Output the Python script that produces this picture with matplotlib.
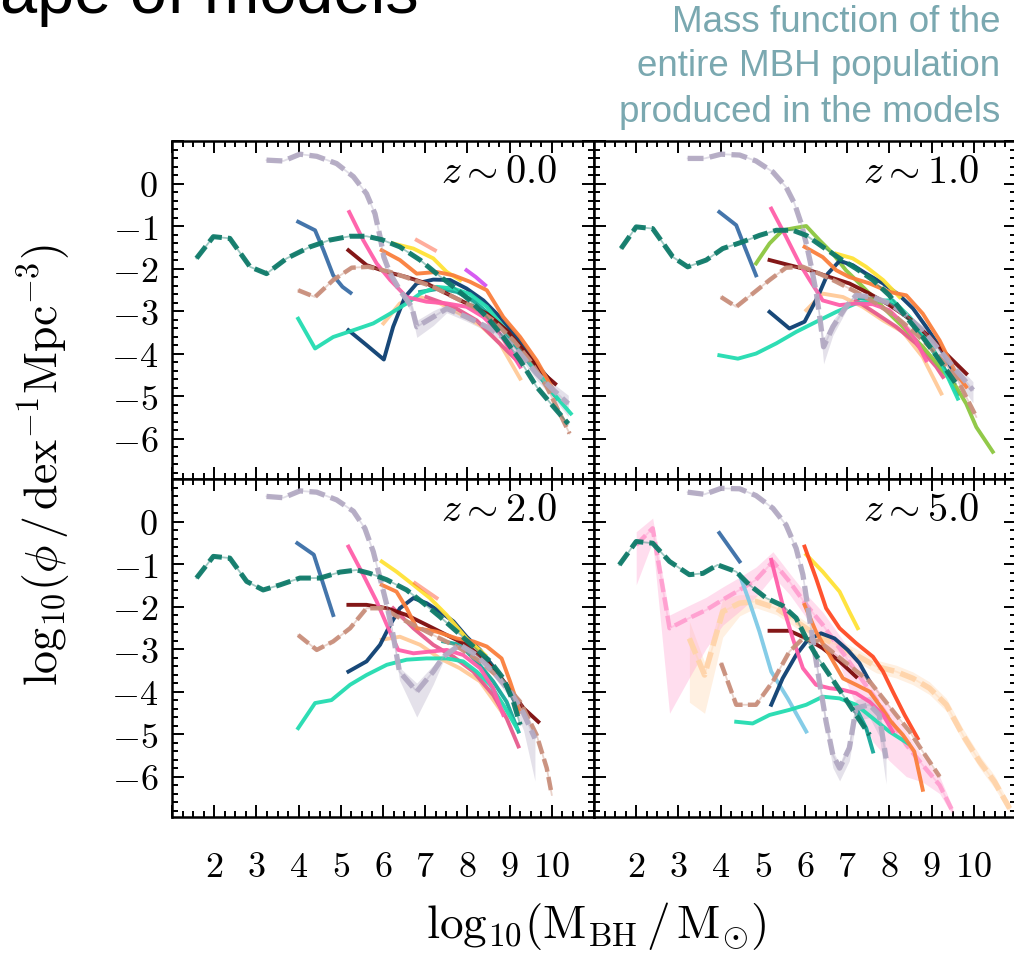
import numpy as np
import matplotlib.pyplot as plt
from matplotlib.ticker import MultipleLocator, FuncFormatter

plt.rcParams['mathtext.fontset'] = 'cm'

# ---- z ~ 0.0 -------------------------------------------------------------
z0_teal_x = [1.58, 1.98, 2.37, 2.85, 3.24, 3.72, 4.27, 4.74, 5.22, 5.61, 5.97, 6.40, 6.88, 7.27, 7.67, 8.06, 8.46, 8.85, 9.25, 9.64, 10.04, 10.39]
z0_teal_y = [-1.76, -1.25, -1.29, -1.96, -2.12, -1.76, -1.49, -1.33, -1.24, -1.24, -1.32, -1.49, -1.80, -2.12, -2.43, -2.75, -3.14, -3.61, -4.16, -4.78, -5.25, -5.65]
z0_gray_x = [3.24, 3.64, 4.03, 4.43, 4.90, 5.30, 5.61, 5.81, 5.93, 6.02, 6.17, 6.40, 6.68, 6.80, 7.19, 7.51, 7.98, 8.46, 8.85, 9.25, 9.64, 10.04, 10.39]
z0_gray_y = [0.55, 0.53, 0.69, 0.64, 0.47, 0.16, -0.24, -0.71, -1.25, -1.73, -2.12, -2.51, -2.90, -3.37, -3.14, -2.94, -3.14, -3.37, -3.61, -4.00, -4.47, -4.86, -5.18]
z0_gray_lo = [0, 0, 0, 0, 0, 0, 0, 0, 0, 0, 0, 0.05, 0.15, 0.25, 0.2, 0.1, 0.1, 0.1, 0.1, 0.1, 0.15, 0.2, 0.3]
z0_gray_hi = [0, 0, 0, 0, 0, 0, 0, 0, 0, 0, 0, 0.05, 0.1, 0.15, 0.15, 0.1, 0.05, 0.05, 0.05, 0.1, 0.1, 0.15, 0.2]
z0_steel_x = [3.99, 4.39, 4.59, 4.82, 5.04, 5.23]
z0_steel_y = [-0.90, -1.10, -1.57, -2.16, -2.43, -2.57]
z0_salmon_x = [3.99, 4.39, 4.82, 5.26, 5.65, 6.17, 6.64, 7.19, 7.67, 8.14, 8.61, 9.09, 9.48, 9.88, 10.19, 10.42]
z0_salmon_y = [-2.51, -2.67, -2.27, -1.98, -1.96, -2.08, -2.24, -2.43, -2.67, -2.90, -3.22, -3.69, -4.16, -4.78, -5.41, -5.88]
z0_navy_x = [5.18, 5.61, 6.02, 6.24, 6.52, 6.80, 7.19, 7.59, 7.98, 8.38, 8.77, 9.17, 9.56, 9.96]
z0_navy_y = [-3.45, -3.80, -4.14, -3.37, -2.67, -2.35, -2.26, -2.27, -2.47, -2.75, -3.14, -3.61, -4.16, -4.63]
z0_aqua_x = [3.99, 4.39, 4.82, 5.30, 5.77, 6.17, 6.56, 6.88, 7.27, 7.67, 8.06, 8.46, 8.85, 9.25, 9.64, 10.04, 10.45]
z0_aqua_y = [-3.18, -3.88, -3.61, -3.45, -3.29, -3.06, -2.82, -2.59, -2.43, -2.47, -2.60, -2.90, -3.37, -3.84, -4.39, -4.94, -5.41]
z0_pink_x = [5.20, 5.53, 5.85, 6.17, 6.56, 7.03, 7.51, 7.98, 8.38, 8.77, 9.25]
z0_pink_y = [-0.67, -1.33, -1.88, -2.27, -2.67, -2.78, -2.82, -2.90, -3.14, -3.53, -4.31]
z0_maroon_x = [5.18, 5.61, 6.09, 6.56, 7.03, 7.51, 7.98, 8.46, 8.93, 9.40, 9.80, 10.08]
z0_maroon_y = [-1.57, -1.92, -2.08, -2.20, -2.35, -2.59, -2.82, -3.06, -3.45, -4.00, -4.47, -4.71]
z0_orange_x = [5.97, 6.40, 6.80, 7.27, 7.67, 8.06, 8.46, 8.85, 9.25, 9.64, 10.04]
z0_orange_y = [-1.57, -1.80, -2.12, -2.08, -2.16, -2.31, -2.51, -3.14, -3.61, -4.16, -4.86]
z0_yellow_x = [6.24, 6.72, 7.19, 7.51, 7.83]
z0_yellow_y = [-1.41, -1.53, -1.76, -2.08, -2.27]
z0_peach_x = [6.01, 6.40, 6.88, 7.35, 7.82, 8.30, 8.77, 9.25]
z0_peach_y = [-3.29, -2.82, -2.67, -2.82, -3.06, -3.33, -3.76, -4.59]
z0_crimson_x = [7.03, 7.67, 8.22, 8.69, 9.17]
z0_crimson_y = [-2.67, -2.90, -3.22, -3.69, -4.16]
z0_midteal_x = [6.88, 7.35, 7.75, 8.14, 8.54, 8.93, 9.33, 9.72, 10.12]
z0_midteal_y = [-2.55, -2.47, -2.55, -2.75, -3.10, -3.55, -4.05, -4.55, -5.05]
z0_purple_x = [7.98, 8.20, 8.42]
z0_purple_y = [-2.04, -2.20, -2.39]
z0_red_x = [6.80, 7.23]
z0_red_y = [-1.33, -1.57]

# ---- z ~ 1.0 -------------------------------------------------------------
z1_teal_x = [1.64, 2.00, 2.39, 2.87, 3.22, 3.66, 4.05, 4.53, 4.92, 5.32, 5.71, 6.03, 6.42, 6.82, 7.21, 7.61, 8.00, 8.40, 8.79, 9.19, 9.58]
z1_teal_y = [-1.53, -1.02, -1.06, -1.73, -1.96, -1.80, -1.53, -1.37, -1.22, -1.10, -1.10, -1.22, -1.49, -1.76, -2.00, -2.27, -2.63, -3.14, -3.61, -4.16, -4.71]
z1_gray_x = [3.22, 3.62, 4.01, 4.45, 4.84, 5.24, 5.55, 5.75, 5.91, 6.03, 6.15, 6.27, 6.36, 6.44, 6.66, 6.97, 7.21, 7.61, 8.00, 8.40, 8.79, 9.19, 9.58, 9.98]
z1_gray_y = [0.59, 0.59, 0.69, 0.67, 0.53, 0.27, -0.08, -0.47, -0.94, -1.41, -1.96, -2.59, -3.22, -3.84, -3.37, -2.90, -2.63, -2.67, -2.82, -3.10, -3.45, -3.92, -4.39, -4.86]
z1_gray_lo = [0, 0, 0, 0, 0, 0, 0, 0, 0, 0, 0, 0.05, 0.15, 0.4, 0.2, 0.1, 0.05, 0.05, 0.05, 0.1, 0.1, 0.15, 0.2, 0.3]
z1_gray_hi = [0, 0, 0, 0, 0, 0, 0, 0, 0, 0, 0, 0.05, 0.1, 0.2, 0.15, 0.1, 0.05, 0.05, 0.05, 0.05, 0.1, 0.1, 0.15, 0.2]
z1_steel_x = [3.97, 4.37, 4.57, 4.84]
z1_steel_y = [-0.67, -0.98, -1.49, -2.16]
z1_green_x = [4.84, 5.16, 5.47, 5.79, 6.03, 6.34, 6.66, 6.97, 7.29, 7.61, 8.00, 8.40, 8.79, 9.19, 9.58, 9.82, 10.06, 10.45]
z1_green_y = [-1.88, -1.41, -1.10, -1.04, -1.00, -1.33, -1.65, -2.04, -2.35, -2.67, -3.06, -3.45, -3.84, -4.31, -4.78, -5.18, -5.73, -6.31]
z1_pink_x = [5.20, 5.55, 5.87, 6.11, 6.42, 6.82, 7.21, 7.61, 8.00, 8.32, 8.63, 8.87]
z1_pink_y = [-0.59, -1.25, -1.88, -2.27, -2.75, -2.86, -2.82, -2.84, -2.98, -3.29, -3.69, -4.16]
z1_maroon_x = [5.16, 5.63, 6.11, 6.58, 7.05, 7.53, 8.00, 8.48, 8.95, 9.42, 9.82]
z1_maroon_y = [-1.80, -1.92, -2.04, -2.20, -2.35, -2.59, -2.86, -3.18, -3.61, -4.08, -4.47]
z1_salmon_x = [4.01, 4.37, 4.76, 5.16, 5.55, 5.95, 6.34, 6.74, 7.21, 7.69, 8.16, 8.63, 9.11, 9.58, 10.06]
z1_salmon_y = [-2.67, -2.90, -2.59, -2.27, -1.98, -1.96, -2.12, -2.31, -2.55, -2.82, -3.14, -3.53, -4.00, -4.55, -5.49]
z1_navy_x = [5.16, 5.63, 5.99, 6.30, 6.54, 6.82, 7.13, 7.45, 7.85, 8.24, 8.56, 8.87, 9.19, 9.50]
z1_navy_y = [-3.02, -3.41, -3.25, -2.67, -2.12, -1.82, -1.92, -2.12, -2.35, -2.63, -2.94, -3.37, -3.84, -4.39]
z1_orange_x = [5.99, 6.42, 6.74, 7.05, 7.53, 8.00, 8.40, 8.79, 9.19, 9.58, 9.82]
z1_orange_y = [-1.49, -1.73, -2.04, -2.20, -2.35, -2.55, -2.63, -3.06, -3.69, -4.47, -4.78]
z1_yellow_x = [6.74, 7.13, 7.45, 7.85, 8.24]
z1_yellow_y = [-1.65, -1.76, -1.96, -2.27, -2.67]
z1_peach_x = [6.03, 6.42, 6.90, 7.37, 7.85, 8.32, 8.79, 9.23]
z1_peach_y = [-2.98, -2.59, -2.67, -2.90, -3.22, -3.49, -4.08, -4.94]
z1_aqua_x = [3.97, 4.41, 4.84, 5.32, 5.79, 6.27, 6.74, 7.21, 7.69, 8.08, 8.48, 8.87, 9.27, 9.62]
z1_aqua_y = [-4.04, -4.12, -4.00, -3.76, -3.49, -3.25, -3.02, -2.82, -2.75, -2.75, -3.14, -3.61, -4.31, -5.06]
z1_crimson_x = [7.21, 7.69, 8.16, 8.63, 9.11, 9.27]
z1_crimson_y = [-2.75, -3.06, -3.37, -3.76, -4.31, -4.55]
z1_midteal_x = [7.29, 7.69, 8.08, 8.48, 8.87, 9.27, 9.62]
z1_midteal_y = [-2.70, -2.72, -2.85, -3.20, -3.70, -4.30, -4.95]

# ---- z ~ 2.0 -------------------------------------------------------------
z2_teal_x = [1.58, 1.98, 2.37, 2.77, 3.16, 3.56, 4.03, 4.51, 4.98, 5.38, 5.69, 6.09, 6.56, 6.96, 7.35, 7.75, 8.14, 8.54, 8.85, 9.09, 9.25]
z2_teal_y = [-1.33, -0.82, -0.86, -1.41, -1.61, -1.49, -1.33, -1.33, -1.19, -1.14, -1.22, -1.37, -1.61, -1.92, -2.24, -2.59, -2.94, -3.29, -3.69, -4.24, -4.78]
z2_gray_x = [3.24, 3.64, 4.03, 4.43, 4.90, 5.30, 5.57, 5.77, 5.93, 6.09, 6.24, 6.39, 6.80, 7.19, 7.43, 7.82, 8.22, 8.61, 9.01, 9.33, 9.60]
z2_gray_y = [0.59, 0.56, 0.72, 0.69, 0.51, 0.24, -0.16, -0.71, -1.33, -1.96, -2.67, -3.53, -4.00, -3.53, -3.18, -2.90, -3.14, -3.53, -4.00, -4.51, -5.10]
z2_gray_lo = [0, 0, 0, 0, 0, 0, 0, 0, 0, 0, 0.05, 0.2, 0.6, 0.3, 0.1, 0.05, 0.05, 0.1, 0.15, 0.4, 1.0]
z2_gray_hi = [0, 0, 0, 0, 0, 0, 0, 0, 0, 0, 0.05, 0.1, 0.2, 0.15, 0.1, 0.05, 0.05, 0.05, 0.1, 0.1, 0.1]
z2_steel_x = [3.97, 4.36, 4.59, 4.82]
z2_steel_y = [-0.51, -0.78, -1.49, -2.20]
z2_salmon_x = [3.99, 4.43, 4.82, 5.22, 5.61, 6.01, 6.40, 6.88, 7.35, 7.82, 8.30, 8.77, 9.25, 9.64, 9.88, 10.00]
z2_salmon_y = [-2.67, -3.02, -2.82, -2.51, -2.04, -2.04, -2.27, -2.51, -2.75, -2.98, -3.29, -3.69, -4.24, -5.02, -5.80, -6.43]
z2_pink_x = [5.18, 5.53, 5.85, 6.09, 6.36, 6.72, 7.11, 7.51, 7.90, 8.30, 8.61, 8.85]
z2_pink_y = [-0.59, -1.25, -1.88, -2.43, -3.02, -3.10, -3.06, -3.02, -3.14, -3.45, -3.92, -4.55]
z2_crimson_x = [6.24, 6.72, 7.19, 7.67, 8.14, 8.61, 8.93, 9.21]
z2_crimson_y = [-2.04, -2.51, -2.90, -3.18, -3.53, -4.08, -4.63, -5.29]
z2_maroon_x = [5.18, 5.61, 6.09, 6.56, 7.03, 7.51, 7.98, 8.46, 8.93, 9.33, 9.68]
z2_maroon_y = [-1.96, -1.96, -2.04, -2.20, -2.43, -2.67, -2.90, -3.29, -3.84, -4.39, -4.71]
z2_navy_x = [5.18, 5.61, 5.93, 6.17, 6.40, 6.72, 7.03, 7.35, 7.67, 7.98, 8.30, 8.61, 8.93, 9.21]
z2_navy_y = [-3.53, -3.29, -2.90, -2.43, -2.04, -1.80, -1.92, -2.12, -2.35, -2.71, -3.02, -3.41, -3.88, -4.39]
z2_yellow_x = [5.97, 6.32, 6.72, 7.11, 7.51, 7.98, 8.42]
z2_yellow_y = [-0.94, -1.18, -1.49, -1.80, -2.20, -2.75, -3.14]
z2_red_x = [6.76, 7.27]
z2_red_y = [-1.45, -1.80]
z2_orange_x = [5.97, 6.32, 6.56, 6.80, 7.27, 7.75, 8.14, 8.46, 8.81, 9.01, 9.25]
z2_orange_y = [-1.49, -1.65, -2.04, -2.51, -2.59, -2.75, -2.82, -2.94, -3.22, -3.76, -4.47]
z2_peach_x = [5.97, 6.40, 6.88, 7.35, 7.82, 8.30, 8.81]
z2_peach_y = [-2.78, -2.71, -2.90, -3.22, -3.45, -3.76, -4.47]
z2_aqua_x = [3.99, 4.39, 4.78, 5.22, 5.61, 6.09, 6.56, 7.03, 7.51, 7.90, 8.22, 8.54, 8.85, 9.17]
z2_aqua_y = [-4.86, -4.27, -4.20, -3.84, -3.61, -3.37, -3.25, -3.22, -3.22, -3.29, -3.53, -3.84, -4.31, -4.86]
z2_midteal_x = [7.43, 7.82, 8.22, 8.61, 8.93, 9.21]
z2_midteal_y = [-2.82, -2.90, -3.29, -3.76, -4.24, -4.94]

# ---- z ~ 5.0 -------------------------------------------------------------
z5_teal_x = [1.60, 2.00, 2.39, 2.79, 3.26, 3.58, 3.93, 4.37, 4.68, 5.08, 5.47, 5.79, 6.03, 6.26, 6.58, 6.90, 7.21, 7.53]
z5_teal_y = [-1.02, -0.47, -0.51, -0.94, -1.25, -1.22, -1.02, -1.18, -1.49, -1.80, -1.98, -2.27, -2.75, -3.14, -3.61, -4.08, -4.55, -5.02]
z5_gray_x = [3.22, 3.62, 4.01, 4.45, 4.84, 5.24, 5.55, 5.79, 5.95, 6.07, 6.19, 6.34, 6.50, 6.66, 6.82, 7.05, 7.21, 7.53, 7.76, 7.92]
z5_gray_y = [0.69, 0.64, 0.78, 0.77, 0.61, 0.31, -0.08, -0.63, -1.25, -2.04, -2.82, -3.76, -4.71, -5.49, -5.80, -5.33, -4.39, -4.31, -4.55, -5.57]
z5_gray_lo = [0, 0, 0, 0, 0, 0, 0, 0, 0, 0, 0.05, 0.1, 0.2, 0.3, 0.3, 0.3, 0.3, 0.3, 0.5, 0.6]
z5_gray_hi = [0, 0, 0, 0, 0, 0, 0, 0, 0, 0, 0.05, 0.1, 0.1, 0.1, 0.1, 0.2, 0.2, 0.2, 0.2, 0.2]
z5_pinkd_x = [2.00, 2.39, 2.79, 3.26, 3.66, 4.05, 4.45, 4.84, 5.24, 5.63, 6.03, 6.42, 6.82, 7.21, 7.61, 8.00, 8.40, 8.79, 9.19, 9.50]
z5_pinkd_y = [-0.55, -0.16, -2.51, -2.27, -2.08, -1.84, -1.61, -1.37, -0.94, -1.41, -1.96, -2.43, -2.98, -3.53, -4.08, -4.63, -5.25, -5.73, -6.20, -6.82]
z5_pinkd_lo = [0.94, 0.31, 2.0, 1.4, 0.9, 0.6, 0.5, 0.4, 0.35, 0.3, 0.3, 0.3, 0.4, 0.8, 1.1, 1.0, 0.75, 0.4, 0.2, 0.1]
z5_pinkd_hi = [0.31, 0.24, 0.31, 0.3, 0.3, 0.3, 0.3, 0.3, 0.23, 0.2, 0.25, 0.3, 0.3, 0.3, 0.3, 0.3, 0.3, 0.2, 0.2, 0.1]
z5_peachd_x = [3.26, 3.62, 4.05, 4.45, 4.84, 5.32, 5.79, 6.26, 6.74, 7.21, 7.69, 8.16, 8.56, 8.95, 9.35, 9.74, 10.14, 10.49, 10.85]
z5_peachd_y = [-2.75, -3.61, -2.12, -1.92, -1.88, -2.04, -2.35, -2.67, -2.90, -3.14, -3.41, -3.53, -3.69, -3.92, -4.31, -5.02, -5.65, -6.12, -6.75]
z5_peachd_lo = [1.5, 0.9, 0.6, 0.3, 0.15, 0.15, 0.15, 0.15, 0.15, 0.15, 0.15, 0.15, 0.15, 0.15, 0.15, 0.15, 0.15, 0.15, 0.1]
z5_peachd_hi = [0.4, 0.3, 0.3, 0.2, 0.15, 0.15, 0.15, 0.15, 0.15, 0.15, 0.15, 0.15, 0.15, 0.15, 0.15, 0.15, 0.15, 0.15, 0.1]
z5_steel_x = [3.97, 4.45]
z5_steel_y = [-0.27, -0.94]
z5_lblue_x = [4.45, 4.68, 4.92, 5.20, 5.59, 6.03]
z5_lblue_y = [-1.25, -1.88, -2.59, -3.53, -4.16, -4.94]
z5_salmon_x = [4.01, 4.37, 4.84, 5.24, 5.63, 5.95, 6.34, 6.74, 7.13, 7.53, 7.85, 8.16, 8.48, 8.79, 9.19]
z5_salmon_y = [-3.33, -4.31, -4.31, -3.76, -3.06, -2.75, -2.82, -3.14, -3.45, -3.76, -4.16, -4.55, -4.94, -5.41, -6.00]
z5_maroon_x = [5.16, 5.63, 6.03, 6.42, 6.82, 7.21]
z5_maroon_y = [-2.57, -2.57, -2.75, -2.98, -3.29, -3.65]
z5_pink_x = [5.20, 5.47, 5.71, 5.95, 6.26, 6.58, 6.90, 7.21, 7.53, 7.85, 8.08]
z5_pink_y = [-0.90, -1.96, -2.75, -3.45, -3.84, -3.92, -3.96, -4.04, -4.24, -4.55, -4.94]
z5_navy_x = [5.20, 5.47, 5.79, 6.07, 6.38, 6.70, 7.01, 7.29, 7.53]
z5_navy_y = [-4.31, -3.69, -3.14, -2.78, -2.63, -2.75, -3.02, -3.33, -3.76]
z5_red_x = [5.99, 6.26, 6.50, 6.82, 7.21, 7.61, 7.85, 8.08, 8.36, 8.67]
z5_red_y = [-0.59, -1.33, -2.04, -2.51, -2.86, -3.18, -3.53, -4.00, -4.55, -5.10]
z5_yellow_x = [6.03, 6.42, 6.82, 7.05, 7.25]
z5_yellow_y = [-0.78, -1.18, -1.65, -2.12, -2.51]
z5_orange_x = [5.99, 6.26, 6.58, 6.90, 7.21, 7.53, 7.76, 8.04, 8.32, 8.59, 8.79]
z5_orange_y = [-1.96, -2.59, -3.14, -3.69, -3.84, -4.00, -4.31, -4.71, -5.02, -5.41, -6.31]
z5_aqua_x = [4.37, 4.76, 5.16, 5.63, 6.03, 6.42, 6.82, 7.21, 7.61, 8.00, 8.44]
z5_aqua_y = [-4.71, -4.75, -4.55, -4.43, -4.31, -4.12, -4.16, -4.31, -4.63, -4.94, -5.22]
z5_midteal_x = [7.21, 7.45, 7.61]
z5_midteal_y = [-4.39, -4.86, -5.41]

STYLE = {
    'teal':    dict(color='#0e7a69', dashed=True, lw=3.6, z=6),
    'gray':    dict(color='#b3aac3', dashed=True, lw=3.8, z=5),
    'salmon':  dict(color='#c98f7c', dashed=True, lw=3.2, z=4),
    'pinkd':   dict(color='#ff9fd0', dashed=True, lw=3.2, z=3),
    'peachd':  dict(color='#ffd4aa', dashed=True, lw=4.0, z=2),
    'steel':   dict(color='#3a6ea7'),
    'navy':    dict(color='#0b3e71'),
    'aqua':    dict(color='#22dcb0'),
    'pink':    dict(color='#ff5ea9'),
    'crimson': dict(color='#e65b8d'),
    'maroon':  dict(color='#7c0a0a'),
    'orange':  dict(color='#fa7f3c'),
    'yellow':  dict(color='#ffe236'),
    'peach':   dict(color='#ffca98'),
    'midteal': dict(color='#16a99a'),
    'green':   dict(color='#8cc63f'),
    'purple':  dict(color='#cc33ee', alpha=0.8),
    'red':     dict(color='#ff4a24'),
    'redfaint': dict(color='#ff4a24', alpha=0.45),
    'lblue':   dict(color='#7ecae6'),
}

panels = [
    ('0.0',
     [('peach', z0_peach_x, z0_peach_y), ('crimson', z0_crimson_x, z0_crimson_y),
      ('midteal', z0_midteal_x, z0_midteal_y), ('steel', z0_steel_x, z0_steel_y),
      ('navy', z0_navy_x, z0_navy_y), ('aqua', z0_aqua_x, z0_aqua_y),
      ('maroon', z0_maroon_x, z0_maroon_y), ('yellow', z0_yellow_x, z0_yellow_y),
      ('redfaint', z0_red_x, z0_red_y), ('purple', z0_purple_x, z0_purple_y),
      ('orange', z0_orange_x, z0_orange_y), ('pink', z0_pink_x, z0_pink_y),
      ('salmon', z0_salmon_x, z0_salmon_y), ('gray', z0_gray_x, z0_gray_y),
      ('teal', z0_teal_x, z0_teal_y)],
     [('gray', z0_gray_x, z0_gray_y, z0_gray_lo, z0_gray_hi)]),
    ('1.0',
     [('peach', z1_peach_x, z1_peach_y), ('crimson', z1_crimson_x, z1_crimson_y),
      ('midteal', z1_midteal_x, z1_midteal_y), ('steel', z1_steel_x, z1_steel_y),
      ('green', z1_green_x, z1_green_y), ('navy', z1_navy_x, z1_navy_y),
      ('aqua', z1_aqua_x, z1_aqua_y), ('maroon', z1_maroon_x, z1_maroon_y),
      ('yellow', z1_yellow_x, z1_yellow_y), ('orange', z1_orange_x, z1_orange_y),
      ('pink', z1_pink_x, z1_pink_y), ('salmon', z1_salmon_x, z1_salmon_y),
      ('gray', z1_gray_x, z1_gray_y), ('teal', z1_teal_x, z1_teal_y)],
     [('gray', z1_gray_x, z1_gray_y, z1_gray_lo, z1_gray_hi)]),
    ('2.0',
     [('peach', z2_peach_x, z2_peach_y), ('crimson', z2_crimson_x, z2_crimson_y),
      ('midteal', z2_midteal_x, z2_midteal_y), ('steel', z2_steel_x, z2_steel_y),
      ('navy', z2_navy_x, z2_navy_y), ('aqua', z2_aqua_x, z2_aqua_y),
      ('maroon', z2_maroon_x, z2_maroon_y), ('yellow', z2_yellow_x, z2_yellow_y),
      ('redfaint', z2_red_x, z2_red_y), ('orange', z2_orange_x, z2_orange_y),
      ('pink', z2_pink_x, z2_pink_y), ('salmon', z2_salmon_x, z2_salmon_y),
      ('gray', z2_gray_x, z2_gray_y), ('teal', z2_teal_x, z2_teal_y)],
     [('gray', z2_gray_x, z2_gray_y, z2_gray_lo, z2_gray_hi)]),
    ('5.0',
     [('peachd', z5_peachd_x, z5_peachd_y), ('pinkd', z5_pinkd_x, z5_pinkd_y),
      ('midteal', z5_midteal_x, z5_midteal_y), ('steel', z5_steel_x, z5_steel_y),
      ('lblue', z5_lblue_x, z5_lblue_y), ('navy', z5_navy_x, z5_navy_y),
      ('aqua', z5_aqua_x, z5_aqua_y), ('maroon', z5_maroon_x, z5_maroon_y),
      ('yellow', z5_yellow_x, z5_yellow_y), ('red', z5_red_x, z5_red_y),
      ('orange', z5_orange_x, z5_orange_y), ('pink', z5_pink_x, z5_pink_y),
      ('salmon', z5_salmon_x, z5_salmon_y), ('gray', z5_gray_x, z5_gray_y),
      ('teal', z5_teal_x, z5_teal_y)],
     [('peachd', z5_peachd_x, z5_peachd_y, z5_peachd_lo, z5_peachd_hi),
      ('pinkd', z5_pinkd_x, z5_pinkd_y, z5_pinkd_lo, z5_pinkd_hi),
      ('gray', z5_gray_x, z5_gray_y, z5_gray_lo, z5_gray_hi)]),
]

W, H = 1014, 956
fig = plt.figure(figsize=(W / 100, H / 100), dpi=100)

# panel grid in pixels: left edges, top edges, common size
px_left = [172, 594]
px_top = [141, 479]
pw, ph = 422, 338
axes = []
for r in range(2):
    for c in range(2):
        ax = fig.add_axes([px_left[c] / W, 1 - (px_top[r] + ph) / H, pw / W, ph / H])
        axes.append((ax, r, c))


def xfmt(v, pos):
    return f'${int(round(v))}$' if 2 <= round(v) <= 10 else ''


def yfmt(v, pos):
    return f'${int(round(v))}$' if -6 <= round(v) <= 0 else ''


for (ax, r, c), (zlab, lines, bands) in zip(axes, panels):
    for key, x, y, lo, hi in bands:
        y = np.asarray(y)
        ax.fill_between(x, y - np.asarray(lo), y + np.asarray(hi),
                        color=STYLE[key]['color'], alpha=0.35, lw=0, zorder=1)
    for key, x, y in lines:
        st = STYLE[key]
        if st.get('dashed'):
            ax.plot(x, y, color=st['color'], lw=1.3, alpha=0.4, zorder=st['z'])
            ax.plot(x, y, color=st['color'], lw=st['lw'], dashes=(3.0, 1.2),
                    alpha=0.95, zorder=st['z'])
        else:
            ax.plot(x, y, color=st['color'], lw=2.8, alpha=st.get('alpha', 0.95),
                    solid_joinstyle='round', zorder=3)

    ax.set_xlim(1, 11)
    ax.set_ylim(-6.95, 1.0)
    ax.xaxis.set_major_locator(MultipleLocator(1))
    ax.xaxis.set_minor_locator(MultipleLocator(0.25))
    ax.yaxis.set_major_locator(MultipleLocator(1))
    ax.yaxis.set_minor_locator(MultipleLocator(0.2))
    ax.xaxis.set_major_formatter(FuncFormatter(xfmt))
    ax.yaxis.set_major_formatter(FuncFormatter(yfmt))
    ax.tick_params(which='both', direction='in', top=True, right=True,
                   width=1.4, colors='black', labelsize=26)
    ax.tick_params(which='major', length=8.5)
    ax.tick_params(which='minor', length=4.3)
    ax.tick_params(axis='x', pad=24)
    ax.tick_params(axis='y', pad=10)
    ax.tick_params(labelbottom=(r == 1), labelleft=(c == 0))
    for sp in ax.spines.values():
        sp.set_linewidth(1.8)
    ax.text(0.912, 0.908, rf'$z\sim{zlab}$', transform=ax.transAxes,
            ha='right', va='center', fontsize=29, zorder=10)

fig.text(0.044, 0.514, r'$\mathrm{log}_{10}(\phi\,/\,\mathrm{dex}^{-1}\mathrm{Mpc}^{-3})$',
         rotation=90, ha='center', va='center', fontsize=33)
fig.text(0.588, 0.031, r'$\mathrm{log}_{10}(\mathrm{M}_{\mathrm{BH}}\,/\,\mathrm{M}_{\odot})$',
         ha='center', va='center', fontsize=34)

fig.text(0.0, 1 - 13 / H, 'ape of models', ha='left', va='baseline',
         fontsize=48, family='Liberation Sans', color='black')
note = ['Mass function of the', 'entire MBH population', 'produced in the models']
for i, line in enumerate(note):
    fig.text(1000 / W, 1 - (22 + 45 * i) / H, line, ha='right', va='center',
             fontsize=26.5, family='Liberation Sans', color='#7aa8b0')

fig.savefig('out.png', dpi=100)
